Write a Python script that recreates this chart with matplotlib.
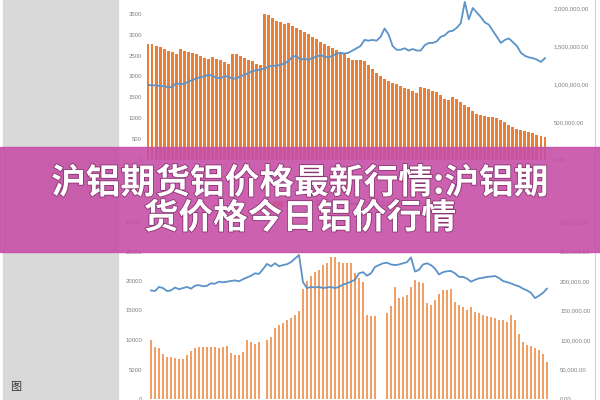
import numpy as np
import matplotlib
matplotlib.use('Agg')
import matplotlib.pyplot as plt
from matplotlib.patches import Rectangle
from matplotlib.ticker import FuncFormatter
import matplotlib.patheffects as pe

plt.rcParams['font.family'] = ['Liberation Sans', 'Noto Sans CJK SC', 'DejaVu Sans']

# 上图: 柱(左轴) + 折线(右轴)
top_bars = [2790, 2770, 2740, 2710, 2670, 2620, 2580, 2540, 2650, 2620,
            2590, 2560, 2530, 2495, 2450, 2410, 2460, 2430, 2400, 2350,
            2310, 2540, 2550, 2490, 2440, 2400, 2370, 2300, 2270, 3500,
            3480, 3400, 3340, 3300, 3260, 3280, 3220, 3160, 3125, 3060,
            3010, 2950, 2890, 2830, 2780, 2730, 2690, 2640, 2590, 2560,
            2450, 2390, 2400, 2400, 2360, 2270, 2180, 2090, 2010, 1950,
            1900, 1850, 1810, 1770, 1730, 1700, 1660, 1600, 1740, 1720,
            1690, 1660, 1630, 1555, 1460, 1440, 1520, 1470, 1400, 1320,
            1260, 1180, 1110, 1075, 1060, 1040, 1020, 1000, 955, 900,
            830, 790, 750, 715, 690, 665, 640, 610, 575, 545]
top_line = [0.99, 0.98, 0.985, 0.97, 0.975, 0.955, 0.96, 1.01, 1.0, 1.0,
            1.03, 1.05, 1.07, 1.09, 1.10, 1.12, 1.11, 1.08, 1.075, 1.10,
            1.10, 1.07, 1.075, 1.10, 1.12, 1.14, 1.17, 1.18, 1.19, 1.20,
            1.23, 1.24, 1.24, 1.25, 1.27, 1.30, 1.36, 1.37, 1.32, 1.33,
            1.32, 1.34, 1.36, 1.38, 1.36, 1.35, 1.37, 1.40, 1.41, 1.40,
            1.41, 1.44, 1.47, 1.50, 1.58, 1.57, 1.58, 1.57, 1.62, 1.73,
            1.65, 1.50, 1.45, 1.45, 1.47, 1.44, 1.46, 1.44, 1.44, 1.51,
            1.54, 1.54, 1.56, 1.62, 1.64, 1.69, 1.70, 1.74, 1.80, 2.08,
            1.85, 2.00, 1.94, 1.88, 1.81, 1.78, 1.70, 1.62, 1.54, 1.58,
            1.60, 1.55, 1.50, 1.41, 1.37, 1.35, 1.34, 1.32, 1.29, 1.34]
top_line = [v * 1e6 for v in top_line]

# 下图: 折线(左轴) + 柱(右轴)
bot_bars = [100000, 88000, 86000, 77000, 72000, 71000, 70000, 67000, 68000, 74000,
            82000, 87000, 88000, 88000, 88000, 88000, 87500, 87000, 88000, 89000,
            78000, 75000, 74000, 80000, 100000, 97000, 94000, 96000, 0, 100000,
            105000, 120000, 125000, 129000, 134000, 137000, 142000, 150000, 187000, 200000,
            208000, 215000, 219000, 227000, 230000, 241000, 241000, 232000, 230000, 230000,
            230000, 213000, 205000, 199000, 142000, 141000, 141000, 0, 0, 145000,
            157000, 190000, 171000, 173000, 176000, 190000, 201000, 199000, 196000, 162000,
            160000, 168000, 178000, 184000, 185000, 186000, 165000, 159000, 156000, 151000,
            156000, 148000, 145000, 143000, 141000, 139000, 137000, 134000, 134000, 131000,
            142000, 134000, 111000, 97000, 91000, 89000, 86000, 83000, 77000, 62000]
bot_line = [18400, 18300, 19000, 18800, 18300, 18400, 18900, 18600, 18800, 19000,
            18700, 19200, 19300, 19100, 19200, 19600, 19550, 19880, 19780, 19880,
            20000, 20100, 19950, 20300, 20600, 20900, 21300, 21200, 22000, 22900,
            22500, 23000, 22500, 22700, 22850, 23200, 23800, 24400, 19800, 18800,
            19000, 18900, 19000, 18800, 18900, 19000, 18800, 19000, 19400, 19600,
            19900, 20200, 21300, 21500, 20900, 21300, 22400, 22700, 23000, 23100,
            22800, 22700, 22800, 23000, 23200, 24000, 21600, 21900, 22800, 23000,
            22700, 22100, 21100, 21500, 21650, 21700, 21300, 20700, 20700, 20400,
            19900, 20200, 20450, 20550, 20700, 20750, 20850, 20500, 20000, 19800,
            19600, 19300, 19100, 18700, 18400, 18000, 17100, 17500, 18000, 18700]

legend_labels = ['总库存:LME铝', '期货收盘价(电子盘):LME3个月铝']
title_lines = ['沪铝期货铝价格最新行情:沪铝期', '货价格今日铝价行情']

W, H = 600, 400
fig = plt.figure(figsize=(6, 4), dpi=100)
fig.patch.set_facecolor('white')


def px_axes(x0, y_top, x1, y_bot):
    return fig.add_axes([x0 / W, 1 - y_bot / H, (x1 - x0) / W, (y_bot - y_top) / H])


def clean(ax):
    for s in ax.spines.values():
        s.set_visible(False)
    ax.set_facecolor('none')
    ax.tick_params(length=0, labelsize=4.3, labelcolor='#7f7f7f')


bar_c = '#ea7e35'
bar_c2 = '#f0a066'
line_c = '#5b93c9'
x = np.arange(100)

# 上图
ax1 = px_axes(146, -7, 547, 160)
ax1.bar(x, top_bars, width=0.74, color=bar_c, linewidth=0)
ax1.set_xlim(-0.5, 99.5)
ax1.set_ylim(0, 4000)
ax1.set_yticks(range(0, 4000, 500))
ax1.set_xticks([])
clean(ax1)
ax1.tick_params(axis='y', pad=3)
ax1b = ax1.twinx()
ax1b.plot(x, top_line, color=line_c, lw=1.3)
ax1b.set_ylim(0, 2197000)
ax1b.set_yticks([0, 500000, 1000000, 1500000, 2000000])
ax1b.yaxis.set_major_formatter(FuncFormatter(lambda v, p: f'{v:,.2f}'))
clean(ax1b)
ax1b.tick_params(axis='y', pad=5)

# 上图图例
fig.patches.append(Rectangle((272 / W, 1 - 206 / H), 10 / W, 5 / H, transform=fig.transFigure,
                             color=bar_c, zorder=3))
fig.text(285 / W, 1 - 203.5 / H, legend_labels[0], fontsize=4.3, color='#7f7f7f', va='center',
         family=['Noto Sans CJK SC', 'DejaVu Sans'])
fig.lines.append(plt.Line2D([345 / W, 360 / W], [1 - 203.5 / H] * 2, transform=fig.transFigure,
                            color=line_c, lw=1.3, zorder=3))
fig.text(363 / W, 1 - 203.5 / H, legend_labels[1], fontsize=4.3, color='#7f7f7f', va='center',
         family=['Noto Sans CJK SC', 'DejaVu Sans'])

# 下图
ax2 = px_axes(149, 222, 549, 399)
ax2.plot(x, bot_line, color=line_c, lw=1.3, zorder=3)
ax2.set_xlim(-0.5, 99.5)
ax2.set_ylim(0, 30000)
ax2.set_yticks(range(0, 30001, 5000))
ax2.set_xticks([])
clean(ax2)
ax2.tick_params(axis='y', pad=5)
ax2b = ax2.twinx()
ax2b.bar(x, bot_bars, width=0.7, color=bar_c2, linewidth=0)
ax2b.set_ylim(0, 300000)
ax2b.set_yticks(range(0, 300001, 50000))
ax2b.yaxis.set_major_formatter(FuncFormatter(lambda v, p: f'{v:,.2f}'))
clean(ax2b)
ax2b.tick_params(axis='y', pad=8)
ax2.set_zorder(ax2b.get_zorder() + 1)

# 左侧灰色面板与边框
fig.patches.append(Rectangle((3 / W, 0), 115 / W, 1, transform=fig.transFigure,
                             color='#d9d9d9', zorder=1))
fig.lines.append(plt.Line2D([595 / W] * 2, [0, 1], transform=fig.transFigure,
                            color='#d0d0d0', lw=0.8, zorder=1))
fig.text(10 / W, 1 - 387 / H, '图', fontsize=8, color='#333333', va='center',
         family=['Noto Sans CJK SC'])

# 标题横幅
fig.patches.append(Rectangle((0, 1 - 252 / H), 1, 105 / H, transform=fig.transFigure,
                             color='#c650a6', alpha=0.9, zorder=10))
for txt, yy in zip(title_lines, [183, 218]):
    fig.text(0.5, 1 - yy / H, txt, fontsize=25, color='white', ha='center', va='center',
             weight='bold', family=['Noto Sans CJK SC', 'DejaVu Sans'], zorder=11,
             path_effects=[pe.withStroke(linewidth=1.2, foreground='#8a3472')])

fig.savefig('out.png', dpi=100)
